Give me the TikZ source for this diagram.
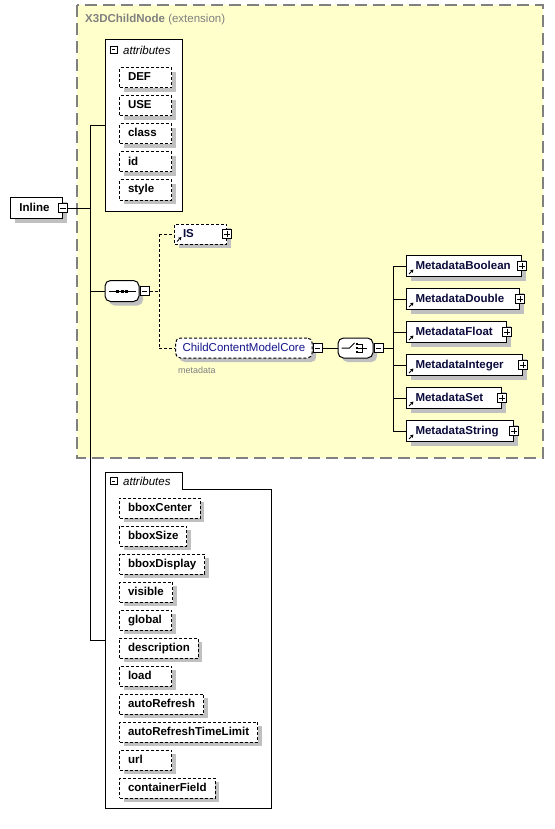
\documentclass[tikz,border=0pt]{standalone}
\usepackage{fontspec}
\setmainfont{Liberation Sans}
\usetikzlibrary{shadows,arrows.meta}

\definecolor{fondjaune}{RGB}{255,255,204}
\definecolor{gristrait}{RGB}{128,128,128}
\definecolor{grisombre}{RGB}{192,192,192}
\definecolor{bleunom}{RGB}{10,10,60}
\definecolor{bleugroupe}{RGB}{20,20,140}

\newcommand{\diagfont}{\fontsize{11.5}{14}\selectfont}

\tikzset{ombre/.style = {drop shadow={shadow xshift=4pt, shadow yshift=-4pt, fill=grisombre, opacity=1}},
         element/.style = {draw, fill=white, line width=1pt, ombre, anchor=west,
                           minimum height=21pt, inner xsep=9pt, inner ysep=0pt, align=left,
                           text height=8.5pt, text depth=2.5pt, font=\diagfont\bfseries},
         reference/.style = {text=bleunom,
                             path picture={\draw[line width=1pt, -{Triangle[length=3pt,width=3.4pt]}]
                               ([shift={(2.5pt,2.5pt)}]path picture bounding box.south west) -- ++(4.5pt,4.5pt);}},
         attribut/.style = {element, dash pattern=on 3pt off 2pt, minimum height=20pt, inner xsep=8.5pt},
         attributcourt/.style = {attribut, text width=35pt},
         groupe/.style = {draw, fill=white, line width=1pt},
         entete/.style = {anchor=west, inner sep=1pt, font=\diagfont\itshape},
         minusicon/.style = {draw, fill=white, line width=1pt, minimum size=9pt, inner sep=0pt,
                             path picture={\draw[line width=1pt] ([xshift=1.8pt]path picture bounding box.west)
                                            -- ([xshift=-1.8pt]path picture bounding box.east);}},
         plusicon/.style = {draw, fill=white, line width=1pt, minimum size=9pt, inner sep=0pt,
                            path picture={\draw[line width=1pt] ([xshift=1.8pt]path picture bounding box.west)
                                            -- ([xshift=-1.8pt]path picture bounding box.east);
                                          \draw[line width=1pt] ([yshift=-1.8pt]path picture bounding box.north)
                                            -- ([yshift=1.8pt]path picture bounding box.south);}},
         compositeur/.style = {rectangle, rounded corners=5.5pt, draw, fill=white, line width=1pt, ombre,
                               inner sep=0pt, minimum width=34pt, minimum height=21pt},
         sequence/.style = {compositeur,
                            path picture={\begin{scope}[sharp corners]
                              \coordinate (pc) at (path picture bounding box.center);
                              \draw[line width=1pt] ([xshift=-13pt]pc) -- ([xshift=14pt]pc);
                              \fill[black] ([shift={(-6.4pt,-1.5pt)}]pc) rectangle +(3pt,3pt);
                              \fill[black] ([shift={(-1.5pt,-1.5pt)}]pc) rectangle +(3pt,3pt);
                              \fill[black] ([shift={(3.4pt,-1.5pt)}]pc) rectangle +(3pt,3pt);
                              \end{scope}}},
         choix/.style = {compositeur, minimum width=35pt, minimum height=20pt,
                         path picture={\begin{scope}[sharp corners]
                           \coordinate (pc) at (path picture bounding box.center);
                           \draw[line width=1pt] ([xshift=-14pt]pc) -- ([xshift=-6pt]pc) -- ([shift={(-1pt,5pt)}]pc);
                           \fill[black] ([shift={(0pt,2.8pt)}]pc) rectangle +(2.4pt,2.4pt);
                           \fill[black] ([shift={(0pt,-1.2pt)}]pc) rectangle +(2.4pt,2.4pt);
                           \fill[black] ([shift={(0pt,-5.2pt)}]pc) rectangle +(2.4pt,2.4pt);
                           \draw[line width=1pt] ([shift={(2.4pt,4pt)}]pc) -- ([shift={(7pt,4pt)}]pc)
                             -- ([shift={(7pt,-4pt)}]pc) -- ([shift={(2.4pt,-4pt)}]pc);
                           \draw[line width=1pt] ([shift={(2.4pt,0pt)}]pc) -- ([shift={(11pt,0pt)}]pc);
                           \end{scope}}},
         lien/.style = {line width=1pt},
         lienopt/.style = {line width=1pt, dash pattern=on 3pt off 2pt}
        }

\begin{document}
\begin{tikzpicture}[x=1pt, y=-1pt]
\useasboundingbox (0,0) rectangle (554,829);
% extension frame
\draw[fill=fondjaune, draw=gristrait, line width=1.6pt, dash pattern=on 12pt off 6pt] (77,5) rectangle (543,458);
\node[anchor=west, inner sep=0pt, text=gristrait, font=\diagfont] (ext) at (85,20) {\textbf{X3DChildNode} (extension)};

% root element
\node[element, text width=34pt] at (10,208) (inl) {Inline};
\node[minusicon] at (inl.east) (inlx) {};

% first attribute group
\node[groupe, anchor=north west, minimum width=77pt, minimum height=172pt] at (105,39) (uattr) {};
\node[minusicon, minimum size=7pt] at (113.5,50) (uattrx) {};
\node[entete] at (122,50) (uattrt) {attributes};
\node[attributcourt] at (119,78) (def) {DEF};
\node[attributcourt] at (119,106) (use) {USE};
\node[attributcourt] at (119,134) (cls) {class};
\node[attributcourt] at (119,162) (idn) {id};
\node[attributcourt] at (119,190) (sty) {style};

% sequence
\node[sequence] at (122,291) (seq) {};
\node[minusicon, anchor=west] at (seq.east) (seqx) {};
\node[attributcourt, reference] at (174,234) (is) {IS};
\node[plusicon] at (is.east) (isx) {};
\node[draw, fill=white, line width=1pt, ombre, rounded corners=5pt, dash pattern=on 3pt off 2pt,
      anchor=west, minimum height=20pt, inner xsep=7pt, inner ysep=0pt, text height=8.5pt, text depth=2.5pt,
      text=bleugroupe, font=\diagfont] at (175,348) (ccmc) {ChildContentModelCore};
\node[minusicon, anchor=west] at (ccmc.east) (ccmcx) {};
\node[anchor=west, inner sep=0pt, text=gristrait, font=\fontsize{9}{11}\selectfont] at (178,370) (ccmclab) {metadata};

% choice
\node[choix] at (355.5,348) (cho) {};
\node[minusicon, anchor=west] at (cho.east) (chox) {};
\node[element, reference, text width=97pt] at (406,266) (mbool) {MetadataBoolean};
\node[element, reference, text width=95pt] at (406,299) (mdbl) {MetadataDouble};
\node[element, reference, text width=82pt] at (406,332) (mflt) {MetadataFloat};
\node[element, reference, text width=98pt] at (406,365) (mint) {MetadataInteger};
\node[element, reference, text width=77pt] at (406,398) (mset) {MetadataSet};
\node[element, reference, text width=89pt] at (406,431) (mstr) {MetadataString};
\node[plusicon] at (mbool.east) (mboolx) {};
\node[plusicon] at (mdbl.east) (mdblx) {};
\node[plusicon] at (mflt.east) (mfltx) {};
\node[plusicon] at (mint.east) (mintx) {};
\node[plusicon] at (mset.east) (msetx) {};
\node[plusicon] at (mstr.east) (mstrx) {};

% second attribute group
\draw[groupe] (105,472) -- (182,472) -- (182,489) -- (271,489) -- (271,808) -- (105,808) -- cycle;
\coordinate (lattr) at (105,640);
\node[minusicon, minimum size=7pt] at (113.5,481) (lattrx) {};
\node[entete] at (122,481) (lattrt) {attributes};
\node[attribut] at (119,508) (bbc) {bboxCenter};
\node[attribut] at (119,536) (bbs) {bboxSize};
\node[attribut] at (119,564) (bbd) {bboxDisplay};
\node[attributcourt, text width=36pt] at (119,592) (vis) {visible};
\node[attributcourt] at (119,620) (glb) {global};
\node[attribut] at (119,648) (dsc) {description};
\node[attributcourt] at (119,676) (lod) {load};
\node[attribut] at (119,704) (arf) {autoRefresh};
\node[attribut] at (119,732) (artl) {autoRefreshTimeLimit};
\node[attributcourt] at (119,760) (url) {url};
\node[attribut] at (119,788) (cfd) {containerField};

% connectors
\coordinate (tr) at (90,208);
\coordinate (dj) at (159,291);
\coordinate (chj) at (393,348);
\draw[lien] (inlx.east) -- (tr);
\draw[lien] (tr |- uattr.west) -- (tr |- lattr);
\draw[lien] (tr |- uattr.west) -- (uattr.west);
\draw[lien] (tr |- seq.west) -- (seq.west);
\draw[lien] (tr |- lattr) -- (lattr);
\draw[lienopt] (seqx.east) -- (dj);
\draw[lienopt] (dj |- is.west) -- (dj |- ccmc.west);
\draw[lienopt] (dj |- is.west) -- (is.west);
\draw[lienopt] (dj |- ccmc.west) -- (ccmc.west);
\draw[lien] (ccmcx.east) -- (cho.west);
\draw[lien] (chox.east) -- (chj);
\draw[lien] (chj |- mbool.west) -- (chj |- mstr.west);
\draw[lien] (chj |- mbool.west) -- (mbool.west);
\draw[lien] (chj |- mdbl.west) -- (mdbl.west);
\draw[lien] (chj |- mflt.west) -- (mflt.west);
\draw[lien] (chj |- mint.west) -- (mint.west);
\draw[lien] (chj |- mset.west) -- (mset.west);
\draw[lien] (chj |- mstr.west) -- (mstr.west);
\end{tikzpicture}
\end{document}
